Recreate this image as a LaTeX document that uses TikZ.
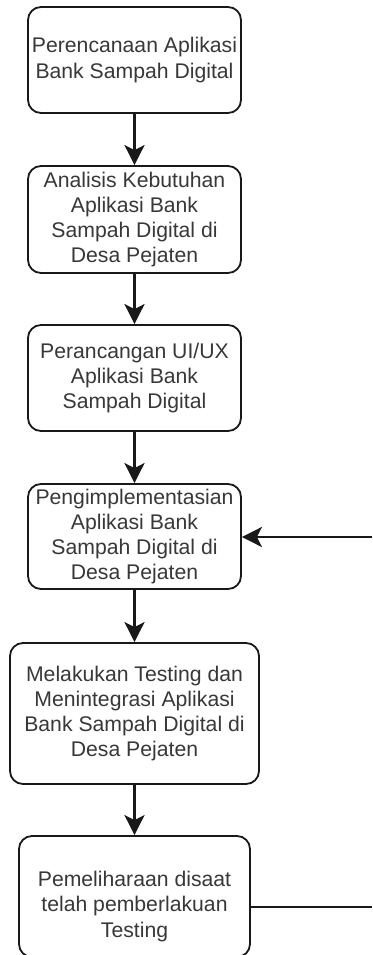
\documentclass[tikz,border=0pt]{standalone}
\usepackage{fontspec}
\setmainfont{Liberation Sans}
\usetikzlibrary{arrows.meta}
\begin{document}
\begin{tikzpicture}[x=1pt,y=1pt,
  txt/.style={align=center, text=black!78, font=\fontsize{21.2}{25.2}\selectfont, inner sep=0pt},
  box/.style={txt, draw=black!90, line width=1.8pt, rounded corners=13pt, fill=white},
  flow/.style={line width=2.8pt, draw=black!90, -{Stealth[length=20pt,width=20pt,inset=5pt]}},
  plain/.style={line width=2.8pt, draw=black!90}]
\useasboundingbox (0,0) rectangle (372,-955);
\node[box, minimum width=213pt, minimum height=106pt] (b1) at (134.5,-60)
  {Perencanaan Aplikasi\\Bank Sampah Digital};
\node[box, minimum width=213pt, minimum height=107pt] (b2) at (134.5,-219.5)
  {Analisis Kebutuhan\\Aplikasi Bank\\Sampah Digital di\\Desa Pejaten};
\node[box, minimum width=213pt, minimum height=106pt] (b3) at (134.5,-378)
  {Perancangan UI/UX\\Aplikasi Bank\\Sampah Digital};
\node[box, minimum width=213pt, minimum height=105pt] (b4) at (134.5,-536.5)
  {Pengimplementasian\\Aplikasi Bank\\Sampah Digital di\\Desa Pejaten};
\node[box, minimum width=249pt, minimum height=141pt] (b5) at (134.5,-713.5)
  {Melakukan Testing dan\\Menintegrasi Aplikasi\\Bank Sampah Digital di\\Desa Pejaten};
\node[box, minimum width=231pt, minimum height=121pt,
  label={[txt, yshift=-10pt]center:{Pemeliharaan disaat\\telah pemberlakuan\\Testing}}] (b6) at (134.5,-896.5) {};
\coordinate (r1) at (372,-907);
\coordinate (r2) at (372,-537);
\draw[flow] (b1) -- (b2);
\draw[flow] (b2) -- (b3);
\draw[flow] (b3) -- (b4);
\draw[flow] (b4) -- (b5);
\draw[flow] (b5) -- (b6);
\draw[plain] (r1 -| b6.east) -- (r1);
\draw[flow] (r2) -- (r2 -| b4.east);
\end{tikzpicture}
\end{document}
